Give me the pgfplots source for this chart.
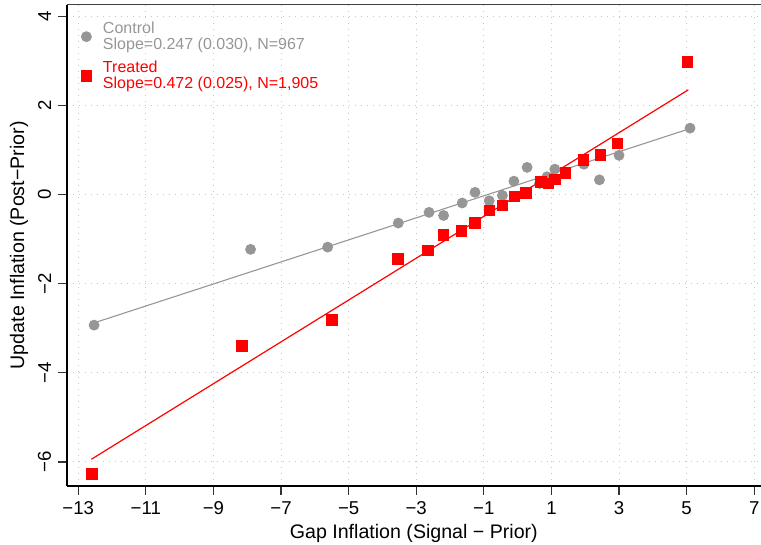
\documentclass[border=0pt]{standalone}
\usepackage{fontspec}
\setmainfont{Liberation Sans}
\usepackage{pgfplots}
\pgfplotsset{compat=1.18}
\definecolor{ctrl}{RGB}{150,150,150}
\definecolor{trt}{RGB}{255,0,0}

\begin{document}
\begin{tikzpicture}
\begin{axis}[
  scale only axis, width=347.15pt, height=240.65pt,
  xmin=-13.34, xmax=7.2, ymin=-6.54, ymax=4.26,
  clip=false,
  axis x line*=bottom, axis y line*=left,
  axis line style={line width=0.9pt, -},
  xtick={-13,-11,...,7},
  xticklabels={−13,−11,−9,−7,−5,−3,−1,1,3,5,7},
  ytick={-6,-4,...,4},
  yticklabels={−6,−4,−2,0,2,4},
  tick align=outside, major tick length=4.3pt,
  tick style={line width=0.6pt, black!80},
  xticklabel style={font=\fontsize{9.3}{10}\selectfont},
  yticklabel style={font=\fontsize{9.3}{10}\selectfont, rotate=90, anchor=south},
  grid=major,
  grid style={draw=black!22, line width=0.5pt, dash pattern=on 0.5pt off 2.5pt},
  xlabel={Gap Inflation (Signal − Prior)},
  ylabel={Update Inflation (Post−Prior)},
  label style={font=\fontsize{9.8}{11}\selectfont},
  xlabel style={yshift=2pt},
  ylabel style={yshift=-2pt},
  legend cell align=left,
  legend image code/.code={\draw[mark repeat=2,mark phase=2,#1] plot coordinates {(0pt,-1.5pt)(4.5pt,-1.5pt)(9pt,-1.5pt)};
    \path (10.6pt,-1.5pt);},
  legend style={at={(rel axis cs:0,1)}, anchor=north west, draw=none, fill=none,
    font=\fontsize{8}{7.6}\selectfont, row sep=4pt, inner xsep=7pt, inner ysep=6.5pt},
]
% fitted lines
\addplot[ctrl, line width=0.55pt, forget plot] coordinates {(-12.53,-2.88) (5.10,1.48)};
\addplot[trt, line width=0.6pt, forget plot] coordinates {(-12.61,-5.94) (5.05,2.35)};

% control bins
\addplot[only marks, mark=*, mark size=2.5pt, color=ctrl] coordinates {
  (-12.53,-2.93) (-7.90,-1.23) (-5.62,-1.18) (-3.53,-0.64) (-2.62,-0.40)
  (-2.19,-0.47) (-1.64,-0.19) (-1.26,0.05) (-0.84,-0.14) (-0.45,-0.02)
  (-0.11,0.30) (0.28,0.61) (0.65,0.25) (0.87,0.40) (1.10,0.57)
  (1.96,0.68) (2.42,0.33) (3.00,0.88) (5.10,1.49)};
\addlegendentry{\textcolor{ctrl}{\begin{tabular}{@{}l@{}}Control\\Slope=0.247 (0.030), N=967\end{tabular}}}

% treated bins
\addplot[only marks, mark=square*, mark size=2.65pt, color=trt] coordinates {
  (-12.60,-6.27) (-8.16,-3.40) (-5.50,-2.81) (-3.55,-1.45) (-2.66,-1.25)
  (-2.19,-0.91) (-1.66,-0.82) (-1.27,-0.64) (-0.83,-0.36) (-0.45,-0.24)
  (-0.10,-0.04) (0.25,0.04) (0.68,0.28) (0.91,0.25) (1.10,0.34)
  (1.41,0.48) (1.95,0.78) (2.45,0.89) (2.95,1.15) (5.02,2.98)};
\addlegendentry{\textcolor{trt}{\begin{tabular}{@{}l@{}}Treated\\Slope=0.472 (0.025), N=1,905\end{tabular}}}

\draw[line width=0.5pt, black!75] (rel axis cs:0,1) -- (rel axis cs:1,1);
\coordinate (bl) at (rel axis cs:0,0);
\coordinate (tr) at (rel axis cs:1,1);
\end{axis}
\pgfresetboundingbox
\path[use as bounding box] ([xshift=-33.35pt,yshift=-29.5pt]bl) rectangle ([yshift=2.35pt]tr);
\end{tikzpicture}
\end{document}
